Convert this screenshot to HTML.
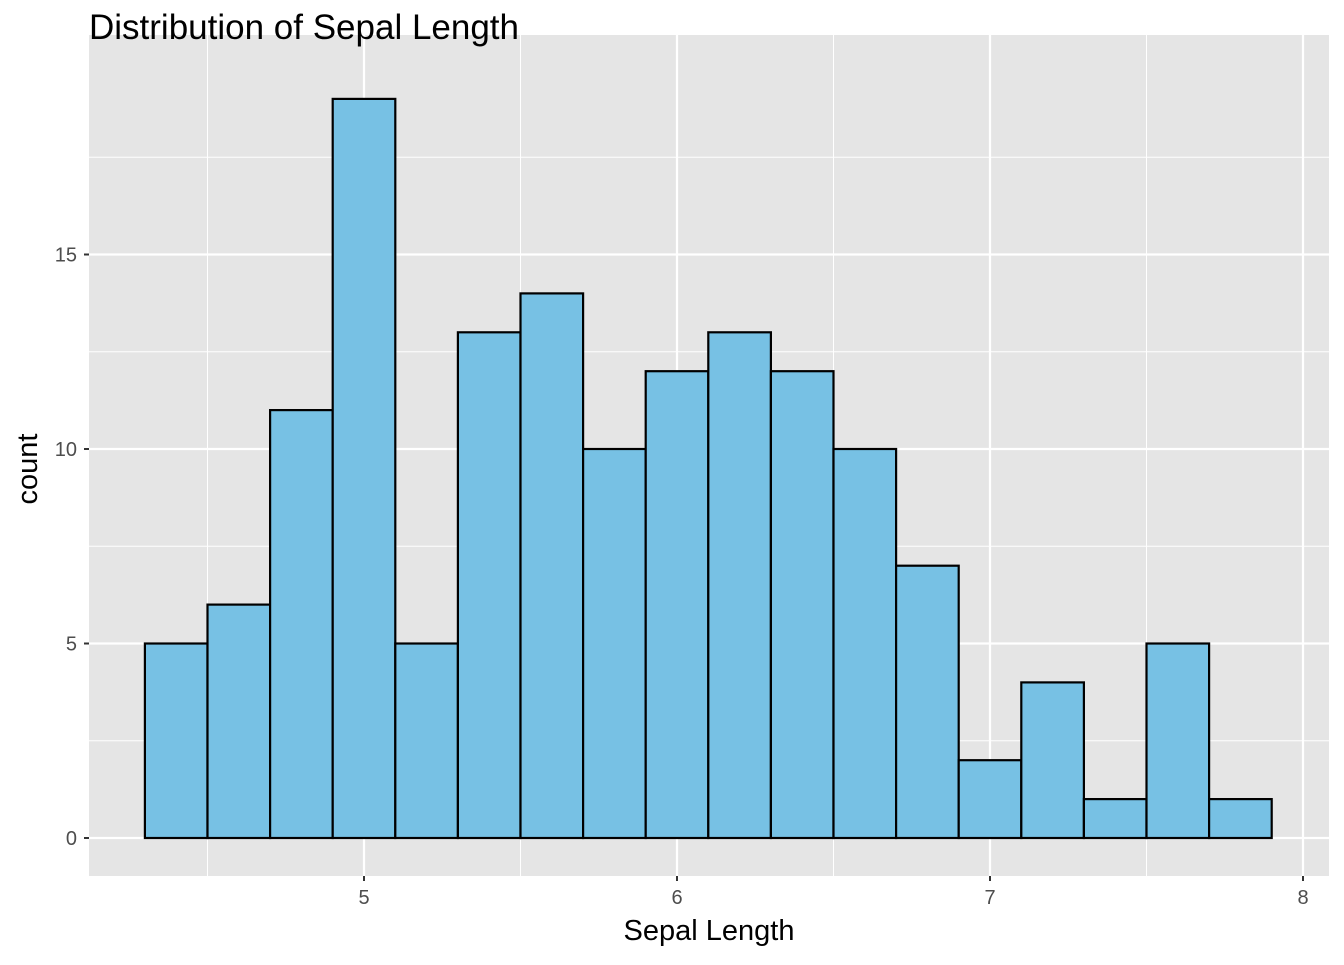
<!DOCTYPE html>
<html><head><meta charset="utf-8"><style>
body{margin:0;background:#fff;}
svg text{font-family:"Liberation Sans",Arial,sans-serif;}
</style></head><body>
<svg id="chart" width="1344" height="960">
<rect x="89" y="35" width="1240" height="841" fill="#e5e5e5"/>
<g id="grid"></g><g id="bars"></g><g id="axes"></g>
<text x="89" y="39" style="font-size:35px" fill="#000">Distribution of Sepal Length</text>
<text x="709" y="940" style="font-size:29px" text-anchor="middle" fill="#000">Sepal Length</text>
<text transform="translate(37,469) rotate(-90)" style="font-size:29px" text-anchor="middle" fill="#000">count</text>
</svg>
<script>
const binStarts=[4.3,4.5,4.7,4.9,5.1,5.3,5.5,5.7,5.9,6.1,6.3,6.5,6.7,6.9,7.1,7.3,7.5,7.7];
const counts=[5,6,11,19,5,13,14,10,12,13,12,10,7,2,4,1,5,1];
const binWidth=0.2;
const xTicks=[5,6,7,8];
const xMinor=[4.5,5.5,6.5,7.5];
const yTicks=[0,5,10,15];
const yMinor=[2.5,7.5,12.5,17.5];
const ns="http://www.w3.org/2000/svg";
const X=v=>364+(v-5)*313;
const Y=v=>838-v*38.9;
const L=89,R=1329,T=35,B=876;
function mk(tag,attrs,parent){const e=document.createElementNS(ns,tag);for(const k in attrs)e.setAttribute(k,attrs[k]);parent.appendChild(e);return e;}
const g=document.getElementById('grid'),b=document.getElementById('bars'),a=document.getElementById('axes');
xMinor.forEach(v=>{const e=mk('line',{x1:X(v),x2:X(v),y1:T,y2:B,stroke:'#fff','stroke-width':1},g);

});
yMinor.forEach(v=>{const e=mk('line',{x1:L,x2:R,y1:Y(v),y2:Y(v),stroke:'#fff','stroke-width':1},g);

});
xTicks.forEach(v=>{const e=mk('line',{x1:X(v),x2:X(v),y1:T,y2:B,stroke:'#fff','stroke-width':2.2},g);


const t=mk('line',{x1:X(v),x2:X(v),y1:B,y2:B+5,stroke:'#333','stroke-width':2},a);


const l=mk('text',{x:X(v),y:B+28,style:'font-size:20px','text-anchor':'middle',fill:'#4d4d4d'},a);l.textContent=v;

});
yTicks.forEach(v=>{const e=mk('line',{x1:L,x2:R,y1:Y(v),y2:Y(v),stroke:'#fff','stroke-width':2.2},g);


const t=mk('line',{x1:L-5,x2:L,y1:Y(v),y2:Y(v),stroke:'#333','stroke-width':2},a);


const l=mk('text',{x:L-12,y:Y(v)+7,style:'font-size:20px','text-anchor':'end',fill:'#4d4d4d'},a);l.textContent=v;

});
binStarts.forEach((s,i)=>{const x0=X(s),x1=X(s+binWidth);
const r=mk('rect',{x:x0,y:Y(counts[i]),width:x1-x0,height:Y(0)-Y(counts[i]),fill:'#77c1e4',stroke:'#000','stroke-width':2.2},b);

});
</script>
</body></html>
